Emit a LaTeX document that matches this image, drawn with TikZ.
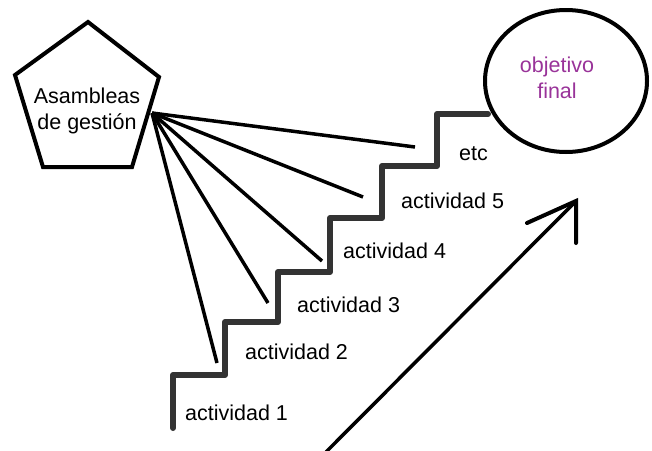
\documentclass[tikz,border=0pt]{standalone}
\usepackage{fontspec}
\setmainfont{Liberation Sans}
\definecolor{goalpurple}{RGB}{153,51,153}
\definecolor{stairgray}{RGB}{51,51,51}
\begin{document}
\begin{tikzpicture}[x=1pt,y=-1pt,
  lbl/.style={inner sep=0pt,font=\fontsize{21.5}{26}\selectfont},
  act/.style={lbl,anchor=base west},
  stair/.style={draw=stairgray,line width=6pt,line cap=round,line join=round},
  link/.style={draw=black,line width=3.5pt},
  outline/.style={draw=black,line width=4pt,line join=miter}]
\useasboundingbox (0,0) rectangle (652,450);
\clip (0,0) rectangle (652,450);
% pentagon
\coordinate (p1) at (88,22);
\coordinate (p2) at (159,77);
\coordinate (p3) at (132,167);
\coordinate (p4) at (43,167);
\coordinate (p5) at (15,75);
\draw[outline] (p1) -- (p2) -- (p3) -- (p4) -- (p5) -- cycle;
\node[lbl,align=center] (asm) at (87,110.5) {Asambleas\\de gestión};
% goal ellipse
\draw[outline] (566,81) ellipse [x radius=81, y radius=71];
\node[lbl,align=center,text=goalpurple] (goal) at (557,78) {objetivo\\final};
% staircase
\draw[stair] (173,428) -- (173,375) -- (225,375) -- (225,322) -- (278,322) -- (278,272)
  -- (330,272) -- (330,218) -- (382,218) -- (382,166) -- (437,166) -- (437,114) -- (488,114);
% labels
\node[act] (a1) at (185,420) {actividad 1};
\node[act] (a2) at (245,359) {actividad 2};
\node[act] (a3) at (297,312) {actividad 3};
\node[act] (a4) at (343,258) {actividad 4};
\node[act] (a5) at (401,208) {actividad 5};
\node[act] (etc) at (459,160) {etc};
% links from the assembly
\coordinate (hub) at (152,113);
\coordinate (e1) at (217,363);
\coordinate (e2) at (268,303);
\coordinate (e3) at (322,261);
\coordinate (e4) at (363,197);
\coordinate (e5) at (415,147);
\foreach \e in {e1,e2,e3,e4,e5} \draw[link] (hub) -- (\e);
% big arrow
\coordinate (astart) at (326,452);
\coordinate (atip) at (576,201);
\coordinate (wl) at (527,223);
\coordinate (wr) at (576,243);
\draw[line width=3.5pt] (astart) -- (atip);
\draw[line width=4pt,line cap=round,line join=miter] (wl) -- (atip) -- (wr);
\end{tikzpicture}
\end{document}
